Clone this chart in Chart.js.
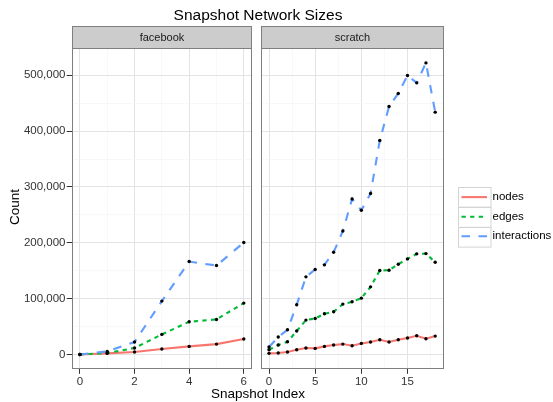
<!DOCTYPE html>
<html>
<head>
<meta charset="utf-8">
<script src="https://cdn.jsdelivr.net/npm/chart.js@4.4.1/dist/chart.umd.min.js"></script>
<style>
  body { margin: 0; background: #fff; font-family: "Liberation Sans", Arial, sans-serif; }
  #wrap { position: relative; width: 553px; height: 402px; overflow: hidden; }
  canvas { position: absolute; top: 0; }
  #chartA { left: 0; }
  #chartB { left: 256px; }
  .txt { position: absolute; color: #000; white-space: nowrap; }
  #title { left: 0; width: 516px; top: 6px; text-align: center; font-size: 15.5px; line-height: 18px; }
  #xTitle { left: 0; width: 516px; top: 386px; text-align: center; font-size: 13.5px; line-height: 16px; }
  #yTitle { left: 14.5px; top: 207px; font-size: 13.5px; line-height: 16px; transform: translate(-50%, -50%) rotate(-90deg); }
</style>
</head>
<body>
<div id="wrap">
  <canvas id="chartA" width="256" height="402"></canvas>
  <canvas id="chartB" width="297" height="402"></canvas>
  <div id="title" class="txt">Snapshot Network Sizes</div>
  <div id="xTitle" class="txt">Snapshot Index</div>
  <div id="yTitle" class="txt">Count</div>
</div>
<script>
// facebook panel
const fbIndex = [0, 1, 2, 3, 4, 5, 6];
const fbNodes = [500, 2400, 4800, 10100, 14900, 19000, 28000];
const fbEdges = [500, 3000, 12000, 36300, 59000, 63100, 92300];
const fbInteractions = [500, 5900, 22700, 95900, 166600, 159500, 200600];

// scratch panel
const scratchIndex = [0, 1, 2, 3, 4, 5, 6, 7, 8, 9, 10, 11, 12, 13, 14, 15, 16, 17, 18];
const scratchNodes = [2400, 3000, 4800, 8900, 12000, 11300, 14900, 17300, 19000, 16100, 20200, 22700, 26800, 22700, 26800, 29800, 33900, 28600, 33300];
const scratchEdges = [8900, 17300, 23200, 42300, 61900, 64800, 73200, 76800, 90500, 94600, 101200, 121400, 150600, 151200, 161900, 171400, 180400, 180900, 165500];
const scratchInteractions = [13800, 31600, 44600, 89300, 139300, 152400, 160700, 183300, 221400, 278600, 258300, 288300, 383300, 444000, 467300, 499400, 486300, 522000, 433900];

// ticks
const yMajorTicks = [0, 100000, 200000, 300000, 400000, 500000];
const yMinorTicks = [50000, 150000, 250000, 350000, 450000];
const fbXMajor = [0, 2, 4, 6];
const fbXMinor = [1, 3, 5];
const scratchXMajor = [0, 5, 10, 15];
const scratchXMinor = [2.5, 7.5, 12.5, 17.5];

const seriesNames = ['nodes', 'edges', 'interactions'];
const seriesColors = ['#F8766D', '#00BA38', '#619CFF'];
const seriesDash = [[], [4.3, 4.3], [8.5, 8.5]];

const FONT = '"Liberation Sans", Arial, sans-serif';

function toPoints(xs, ys) {
  return xs.map((x, i) => ({ x: x, y: ys[i] }));
}

function setTicks(major, minor) {
  return function (scale) {
    const all = major.map(v => ({ value: v, minor: false }))
      .concat(minor.map(v => ({ value: v, minor: true })));
    all.sort((a, b) => a.value - b.value);
    scale.ticks = all;
  };
}

function buildDatasets(xs, seriesList) {
  const sets = [];
  seriesList.forEach((ys, i) => {
    sets.push({
      label: seriesNames[i],
      data: toPoints(xs, ys),
      borderColor: seriesColors[i],
      borderWidth: 2.1,
      borderDash: seriesDash[i],
      borderCapStyle: 'butt',
      pointRadius: 0,
      tension: 0,
      order: 3 - i
    });
  });
  // black dots drawn over all lines
  seriesList.forEach((ys, i) => {
    sets.push({
      label: seriesNames[i] + ' points',
      data: toPoints(xs, ys),
      showLine: false,
      pointRadius: 1.7,
      pointBackgroundColor: '#000',
      pointBorderWidth: 0,
      order: 0
    });
  });
  return sets;
}

const gridColor = ctx => (ctx.tick && ctx.tick.minor) ? '#f3f3f3' : '#e3e3e3';
const gridWidth = ctx => (ctx.tick && ctx.tick.minor) ? 0.6 : 1;
const tickMarkColor = ctx => (ctx.tick && ctx.tick.minor) ? 'rgba(0,0,0,0)' : '#333333';
const labelOf = (ticks, index, value) => ticks[index] && ticks[index].minor ? '' : value.toLocaleString('en-US');

const panelFrame = {
  id: 'panelFrame',
  afterDraw(chart, args, opts) {
    const ctx = chart.ctx;
    const a = chart.chartArea;
    const l = Math.round(a.left) + 0.5, r = Math.round(a.right) - 0.5;
    const t = Math.round(a.top) + 0.5, b = Math.round(a.bottom) - 0.5;
    ctx.save();
    ctx.lineWidth = 1;
    ctx.strokeStyle = '#7f7f7f';
    ctx.strokeRect(l, t, r - l, b - t);
    const st = t - 22;
    ctx.fillStyle = '#cccccc';
    ctx.fillRect(l, st, r - l, 22);
    ctx.strokeRect(l, st, r - l, 22);
    ctx.fillStyle = '#1a1a1a';
    ctx.font = '11px ' + FONT;
    ctx.textAlign = 'center';
    ctx.textBaseline = 'middle';
    ctx.fillText(opts.label, (l + r) / 2, st + 11.5);
    ctx.restore();
  }
};

const keyLegend = {
  id: 'keyLegend',
  afterDraw(chart, args, opts) {
    if (!opts.show) return;
    const ctx = chart.ctx;
    const a = chart.chartArea;
    const kx = a.right + 14, kw = 32.5, kh = 19.6, top = 187.3;
    ctx.save();
    seriesNames.forEach((name, i) => {
      const y = top + i * kh;
      ctx.fillStyle = '#ffffff';
      ctx.fillRect(kx, y, kw, kh);
      ctx.strokeStyle = '#d4d4d4';
      ctx.lineWidth = 1;
      ctx.setLineDash([]);
      ctx.strokeRect(Math.round(kx) + 0.5, Math.round(y) + 0.5, kw, kh);
      ctx.strokeStyle = seriesColors[i];
      ctx.lineWidth = 2.1;
      ctx.lineCap = 'butt';
      ctx.setLineDash(seriesDash[i]);
      ctx.beginPath();
      ctx.moveTo(kx + 4, y + kh / 2);
      ctx.lineTo(kx + kw - 3, y + kh / 2);
      ctx.stroke();
      ctx.setLineDash([]);
      ctx.fillStyle = '#000';
      ctx.font = '11.5px ' + FONT;
      ctx.textAlign = 'left';
      ctx.textBaseline = 'middle';
      ctx.fillText(name, kx + kw + 2.5, y + kh / 2);
    });
    ctx.restore();
  }
};

function makePanel(canvasId, xs, seriesList, xMin, xMax, xMajor, xMinor, opts) {
  const ctx = document.getElementById(canvasId).getContext('2d');
  return new Chart(ctx, {
    type: 'line',
    data: { datasets: buildDatasets(xs, seriesList) },
    options: {
      responsive: false,
      animation: false,
      devicePixelRatio: 1,
      layout: { padding: opts.padding },
      plugins: {
        legend: { display: false },
        tooltip: { enabled: false },
        panelFrame: { label: opts.label },
        keyLegend: { show: opts.legend }
      },
      scales: {
        x: {
          type: 'linear',
          min: xMin,
          max: xMax,
          afterBuildTicks: setTicks(xMajor, xMinor),
          afterFit: s => { s.height = 32.7; },
          border: { display: false },
          grid: { color: gridColor, lineWidth: gridWidth, tickColor: tickMarkColor, tickLength: 4.5 },
          ticks: {
            autoSkip: false,
            maxRotation: 0,
            padding: 1,
            color: '#333333',
            font: { family: FONT, size: 11.5 },
            callback: (value, index, ticks) => labelOf(ticks, index, value)
          }
        },
        y: {
          type: 'linear',
          min: -26100,
          max: 548100,
          afterBuildTicks: setTicks(yMajorTicks, yMinorTicks),
          afterFit: s => { s.width = opts.yWidth; },
          border: { display: false },
          grid: { color: gridColor, lineWidth: gridWidth, tickColor: tickMarkColor, tickLength: 5, drawTicks: opts.yLabels },
          ticks: {
            display: opts.yLabels,
            autoSkip: false,
            padding: 1.2,
            color: '#333333',
            font: { family: FONT, size: 11.5 },
            callback: (value, index, ticks) => labelOf(ticks, index, value)
          }
        }
      }
    },
    plugins: [panelFrame, keyLegend]
  });
}

makePanel('chartA', fbIndex, [fbNodes, fbEdges, fbInteractions], -0.3, 6.3, fbXMajor, fbXMinor, {
  label: 'facebook',
  padding: { top: 48.3, right: 1.7, bottom: 0, left: 0 },
  yWidth: 71.7,
  yLabels: true,
  legend: false
});

makePanel('chartB', scratchIndex, [scratchNodes, scratchEdges, scratchInteractions], -0.9, 18.9, scratchXMajor, scratchXMinor, {
  label: 'scratch',
  padding: { top: 48.3, right: 109.5, bottom: 0, left: 4.7 },
  yWidth: 0,
  yLabels: false,
  legend: true
});
</script>
</body>
</html>
